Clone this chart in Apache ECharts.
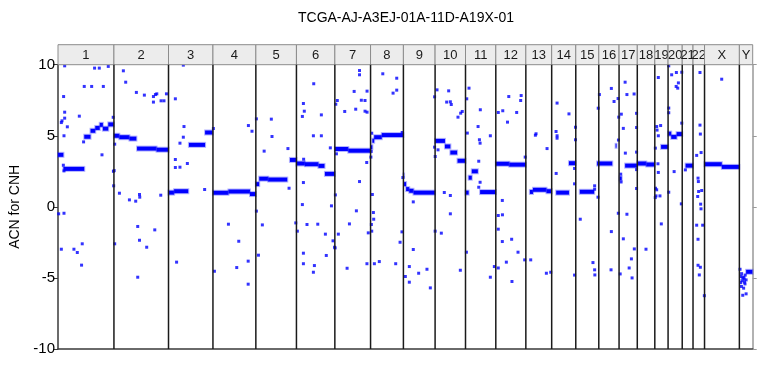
<!DOCTYPE html>
<html>
<head>
<meta charset="utf-8">
<script src="https://cdn.jsdelivr.net/npm/echarts@6/dist/echarts.min.js"></script>
<style>html,body{margin:0;padding:0;background:#fff}#c{width:768px;height:384px}</style>
</head>
<body>
<div id="c"></div>
<script>
const titleText = 'TCGA-AJ-A3EJ-01A-11D-A19X-01';
const yAxisName = 'ACN for CNH';
const yTicks = [-10, -5, 0, 5, 10];
const chromNames = ['1','2','3','4','5','6','7','8','9','10','11','12','13','14','15','16','17','18','19','20','21','22','X','Y'];
const chromLengths = [249.25,243.20,198.02,191.15,180.92,171.12,159.14,146.36,141.21,135.53,135.01,133.85,115.17,107.35,102.53,90.35,81.20,78.08,59.13,63.03,48.13,51.30,155.27,59.37];

// segments: [chrom, startMb, endMb, value]
const segments = [
 ['1',0,24,3.66],['1',24,117,2.67],['1',117,145,4.93],['1',145,166,5.35],['1',166,186,5.55],['1',186,200,5.77],['1',200,224,5.5],['1',224,249,5.8],
 ['2',0,24,5.0],['2',24,69,4.9],['2',69,100,4.8],['2',103,190,4.1],['2',190,243,4.02],
 ['3',0,25,1.0],['3',25,88,1.1],['3',91,163,4.36],['3',163,197,5.23],
 ['4',0,69,0.99],['4',69,165,1.08],['4',165,191,0.9],
 ['5',0,15,1.6],['5',15,55,1.98],['5',55,140,1.92],['5',152,181,3.3],
 ['6',0,38,3.05],['6',38,98,3.0],['6',98,125,2.88],['6',127,171,2.32],
 ['7',0,60,4.07],['7',60,159,3.95],
 ['8',2,8,4.2],['8',8,16,4.65],['8',16,50,4.9],['8',50,146,5.05],
 ['9',0,3,2.2],['9',3,12,1.6],['9',12,26,1.25],['9',26,45,1.13],['9',45,141,1.0],
 ['10',0,44,4.64],['10',44,68,4.25],['10',68,98,3.82],['10',100,135.5,3.24],
 ['11',0,14,1.0],['11',14,28,2.05],['11',28,55,2.5],['11',65,135,1.04],
 ['12',0,60,3.03],['12',60,134,2.97],
 ['13',18,32,1.05],['13',32,92,1.2],['13',92,115,1.1],
 ['14',20,77,1.0],['14',77,107,3.07],
 ['15',18,82,1.06],['15',95,102.5,3.05],
 ['16',0,60,3.05],['16',75,79,4.29],
 ['17',2,12,2.0],['17',27,81,2.9],
 ['18',0,40,3.05],['18',40,78,2.98],
 ['19',28,59,4.22],
 ['20',0,14,5.15],['20',14,38,4.92],['20',38,63,5.12],
 ['21',15,48,2.9],
 ['X',0,77,3.0],['X',77,155,2.81],
 ['Y',30,58,-4.57]
];

// scattered probes: [chrom, posMb, value]
const points = [
 ['1',29.7,9.92],['1',163,9.76],['1',184,9.76],['1',224,9.88],['1',117,8.47],['1',150,8.47],['1',202,8.47],['1',25,7.76],['1',29.7,6.66],['1',17.8,6.05],['1',14.9,5.93],['1',29.7,6.24],['1',95,6.38],['1',41.6,5.63],['1',26.7,5.0],['1',114,4.57],['1',196,3.66],['1',23.8,2.93],['1',26.7,2.53],['1',26.7,-0.45],['1',3,-0.49],['1',14.9,-2.98],['1',71,-2.98],['1',86,-3.21],['1',108,-2.6],['1',105,-4.1],['1',248,1.48],['1',246,6.3],['1',247,2.5],
 ['2',42,9.57],['2',52.4,8.77],['2',100,8.05],['2',135.6,7.86],['2',176,7.76],['2',185,7.9],['2',191,7.95],['2',234,7.95],['2',176,7.37],['2',210,7.46],['2',223,7.46],['2',3.4,4.41],['2',24.5,0.96],['2',69,0.49],['2',97,0.4],['2',114,0.87],['2',115,0.68],['2',208.6,0.82],['2',3.4,-2.6],['2',106,-1.38],['2',114,-2.35],['2',146,-2.84],['2',182,-1.62],['2',106,-4.95],['2',1,2.55],
 ['3',66,9.97],['3',30.5,7.6],['3',69,5.65],['3',66,4.9],['3',51,4.48],['3',30.5,3.33],['3',30.5,2.77],['3',51,2.79],['3',84,3.05],['3',161,1.22],['3',36,-3.89],
 ['4',2,5.51],['4',158,5.72],['4',174,5.32],['4',69,-1.22],['4',115,-2.42],['4',157,-3.82],['4',6.5,-4.53],['4',106,-4.27],['4',157,-5.44],
 ['5',2.4,6.19],['5',69,6.17],['5',72,4.95],['5',37,3.92],['5',143,4.1],['5',148,1.31],['5',2.4,-0.3],['5',29,-1.27],['5',11.6,-3.4],['5',178,-1.13],
 ['6',77,8.66],['6',31,7.27],['6',35,6.73],['6',26.4,6.36],['6',111,6.47],['6',75.5,5.0],['6',111,5.0],['6',151,4.15],['6',32,3.35],['6',31,1.71],['6',26.4,0.16],['6',156,0.07],['6',4,-1.71],['6',47,-1.24],['6',95,-1.22],['6',129,-1.92],['6',31,-3.26],['6',31,-4.0],['6',80,-4.13],['6',75.5,-4.6],['6',133,-3.42],['6',163,-2.39],['6',170,-2.84],
 ['7',110,9.59],['7',110,9.29],['7',86,8.12],['7',143.5,8.14],['7',11,7.48],['7',4.2,7.22],['7',118,7.5],['7',134.5,7.48],['7',44,6.71],['7',93,6.87],['7',134.5,6.73],['7',143.5,6.66],['7',7,3.73],['7',142,3.12],['7',110,1.78],['7',2.4,0.84],['7',96,-0.28],['7',65,-1.2],['7',15.6,-1.92],['7',1,-2.89],['7',54.6,-4.32],['7',149,-1.83],['7',143,-4.0],
 ['8',54.5,9.36],['8',116.6,9.05],['8',116.6,8.21],['8',100.3,8.0],['8',5.2,5.18],['8',8,0.87],['8',12.6,-0.4],['8',14,-0.87],['8',3.7,-1.24],['8',5.2,-1.71],['8',17,-4.0],['8',39,-3.85],['8',112,-4.0],['8',131.5,-2.49],['8',140,-1.76],['8',144,2.06],['8',141,5.23],['8',1.5,3.5],['8',3,3.9],
 ['9',44,-3.0],['9',26.4,-4.2],['9',8.6,-4.9],['9',26.4,-5.3],['9',68,-4.67],['9',105,-4.39],['9',120,-5.7],['9',44,0.35],['9',139,4.2],['9',139,7.74],
 ['10',8.6,8.23],['10',60.5,8.16],['10',51.6,7.37],['10',68,7.39],['10',72,7.2],['10',121,6.71],['10',114,6.59],['10',102,6.31],['10',13,4.01],['10',0.5,3.54],['10',41,1.01],['10',68,0.8],['10',68,-0.49],['10',27.8,-1.85],['10',0.3,-1.71],['10',112.5,-4.46],
 ['11',15.6,8.35],['11',5.5,7.6],['11',66,6.83],['11',56,5.65],['11',62,4.72],['11',65,4.48],['11',110.7,5.0],['11',8,5.19],['11',59,3.21],['11',59,1.38],['11',65,1.73],['11',4,-3.19],['11',128.5,-4.2],['11',110.7,-4.95],
 ['12',57.8,7.76],['12',31,6.76],['12',11,6.64],['12',93,6.64],['12',52,5.96],['12',29.6,-0.56],['12',29,0.45],['12',11,-0.61],['12',11,-1.57],['12',29,-2.44],['12',70.6,-2.28],['12',99,-3.19],['12',47,-3.89],['12',72,-5.25],['12',11,-4.3],['12',113,7.83],['12',110.8,7.48],['12',131,3.5],['12',128.8,-3.73],
 ['13',42.5,5.04],['13',45.5,5.14],['13',94.5,4.1],['13',21.7,-3.73],['13',91.5,-4.67],['13',111,-4.6],
 ['14',24,7.3],['14',77,6.54],['14',19.5,5.3],['14',24,5.0],['14',24,4.83],['14',20,2.35],['14',106,5.6],['14',106,4.72],['14',102,2.7],['14',102,1.62],['14',102,-4.8],
 ['15',20,-0.87],['15',76.6,-3.92],['15',84,-4.43],['15',85,-4.79],['15',84,1.48],['15',84,1.24],['15',99,0.68],['15',100,6.94],
 ['16',2.7,7.9],['16',56,8.33],['16',68,7.41],['16',86,7.62],['16',89,6.31],['16',87.6,4.7],['16',56,-1.74],['16',54.6,-4.43],['16',87,-0.45],
 ['17',7.4,2.3],['17',9,1.75],['17',5,-4.72],['17',19,-2.25],['17',45,-4.3],['17',55,-3.66],['17',68,-2.96],['17',58,-5.0],['17',35,-0.52],['17',19,5.52],['17',27,8.77],['17',35,7.9],['17',67,7.94],['17',10,6.52],['17',28,3.78],['17',78,6.58],['17',78,5.58],['17',78,3.85],['17',78,2.62],['17',78,1.29],
 ['18',38.8,-2.98],
 ['19',15.7,9.1],['19',8.3,5.65],['19',26,5.72],['19',10,5.4],['19',15.7,5.0],['19',2.4,4.13],['19',14,3.03],['19',15.7,2.42],['19',8.3,1.2],['19',5.3,0.77],['19',23,0.77],['19',29,-1.2],['19',3,1.31],['19',2,0.65],
 ['20',3,9.92],['20',16,9.29],['20',37,9.45],['20',61,9.47],['20',46,8.72],['20',36,8.47],['20',43,8.35],['20',3,6.95],['20',3,6.62],['20',61,5.89],['20',27,2.48],['20',59,0.21],['20',3,1.03],
 ['21',14,2.6],
 ['22',31,9.45],['22',31,5.75],['22',32.7,5.12],['22',16.3,3.62],['22',36,3.82],['22',22.3,2.02],['22',23.8,1.78],['22',25,1.08],['22',38.6,1.15],['22',20.8,0.73],['22',34,0.19],['22',35.6,-0.14],['22',16.3,-1.29],['22',43,-1.29],['22',22.3,-2.28],['22',22.3,-4.11],['22',32.7,-4.25],['22',28,-4.79],['22',50.5,-6.25],
 ['X',76.5,8.98],
 ['Y',3,-4.39],['Y',7.6,-4.9],['Y',10,-4.7],['Y',15,-5.0],['Y',21,-5.09],['Y',30,-5.14],['Y',6,-5.33],['Y',25,-5.42],['Y',19,-5.72],['Y',15,-6.22],['Y',30,-6.12],['Y',12,-5.2],['Y',26,-4.8],['Y',20,-4.95],['Y',9,-5.6],['Y',23,-5.3]
];

const offsets = {};
let acc = 0;
chromNames.forEach((n, i) => { offsets[n] = acc; acc += chromLengths[i]; });
const genomeLength = acc;

const chromData = chromNames.map((n, i) => [offsets[n], offsets[n] + chromLengths[i], i]);
const segData = segments.map(s => [offsets[s[0]] + s[1], offsets[s[0]] + s[2], s[3]]);
const pointData = points.map(p => [offsets[p[0]] + p[1], p[2]]);

const FONT = '"Liberation Sans", Arial, sans-serif';
const chart = echarts.init(document.getElementById('c'), null, {renderer: 'canvas'});
chart.setOption({
  animation: false,
  backgroundColor: '#ffffff',
  title: {
    text: titleText, left: 406, top: 11, textAlign: 'center', padding: 0,
    textStyle: {fontSize: 14, fontWeight: 'normal', color: '#000', fontFamily: FONT}
  },
  grid: {left: 58, right: 15.3, top: 64.7, bottom: 35, outerBoundsMode: 'none', containLabel: false},
  xAxis: {
    type: 'value', min: 0, max: genomeLength,
    axisLine: {show: true, onZero: false, lineStyle: {color: '#3a3a3a', width: 1.5}},
    axisTick: {show: false}, axisLabel: {show: false}, splitLine: {show: false}
  },
  yAxis: [{
    type: 'value', min: yTicks[0], max: yTicks[yTicks.length - 1], interval: 5,
    name: yAxisName, nameLocation: 'middle', nameGap: 36, nameRotate: 90,
    nameTextStyle: {fontSize: 14, color: '#000', fontFamily: FONT},
    axisLine: {show: true, lineStyle: {color: '#3a3a3a', width: 1.5}},
    axisTick: {show: true, length: 5, lineStyle: {color: '#3a3a3a'}},
    axisLabel: {fontSize: 15, color: '#000', margin: 3, fontFamily: FONT},
    splitLine: {show: false}
  }, {
    type: 'value', min: yTicks[0], max: yTicks[yTicks.length - 1], interval: 5, position: 'right',
    axisLine: {show: true, lineStyle: {color: '#999', width: 1.5}},
    axisTick: {show: true, length: 4, lineStyle: {color: '#999'}},
    axisLabel: {show: false}, splitLine: {show: false}
  }],
  series: [
    {
      type: 'custom', data: segData, z: 3, silent: true,
      renderItem: function (params, api) {
        const a = api.coord([api.value(0), api.value(2)]);
        const b = api.coord([api.value(1), api.value(2)]);
        return {type: 'group', children: [
          {type: 'rect', shape: {x: a[0] - 1, y: a[1] - 3, width: b[0] - a[0] + 2, height: 6}, style: {fill: 'rgba(40,40,255,0.35)'}},
          {type: 'rect', shape: {x: a[0], y: a[1] - 2, width: b[0] - a[0], height: 4}, style: {fill: '#0000ff'}}
        ]};
      }
    },
    {
      type: 'scatter', data: pointData, symbol: 'rect', symbolSize: 3, z: 4, silent: true,
      itemStyle: {color: '#0000ff'}
    },
    {
      type: 'custom', data: chromData, z: 5, silent: true, clip: false,
      renderItem: function (params, api) {
        const s = api.coord([api.value(0), 0]);
        const e = api.coord([api.value(1), 0]);
        const cs = params.coordSys;
        const idx = api.value(2);
        const top = cs.y;
        const children = [
          {type: 'rect', shape: {x: s[0], y: top - 20, width: e[0] - s[0], height: 20},
           style: {fill: '#ececec', stroke: '#8c8c8c', lineWidth: 1}},
          {type: 'text', style: {text: chromNames[idx], x: (s[0] + e[0]) / 2, y: top - 9.5,
            align: 'center', verticalAlign: 'middle', fontSize: 13, fontFamily: FONT, fill: '#1a1a1a'}}
        ];
        if (idx > 0) {
          children.push({type: 'line', shape: {x1: s[0], y1: top, x2: s[0], y2: top + cs.height},
            style: {stroke: '#1a1a1a', lineWidth: 1.5}});
        }
        return {type: 'group', children: children};
      }
    }
  ]
});
</script>
</body>
</html>
